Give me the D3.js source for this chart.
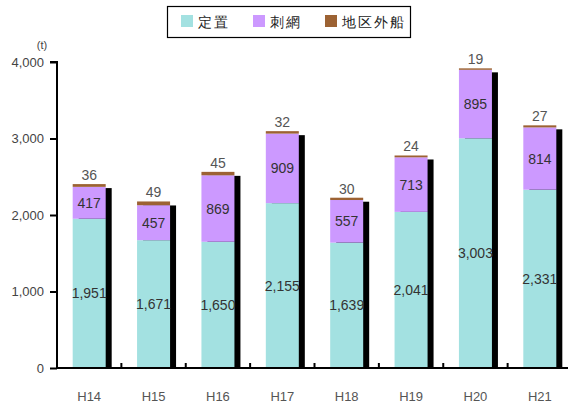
<!DOCTYPE html>
<html>
<head>
<meta charset="utf-8">
<script src="https://cdn.jsdelivr.net/npm/d3@7"></script>
<style>
  body { margin: 0; background: #fff; }
  svg text { font-family: "Liberation Sans", Arial, sans-serif; }
</style>
</head>
<body>
<svg id="chart" width="568" height="407"></svg>
<script>
var years = ["H14", "H15", "H16", "H17", "H18", "H19", "H20", "H21"];
var teichi = [1951, 1671, 1650, 2155, 1639, 2041, 3003, 2331];
var sashiami = [417, 457, 869, 909, 557, 713, 895, 814];
var chikugai = [36, 49, 45, 32, 30, 24, 19, 27];
var seriesNames = ["定置", "刺網", "地区外船"];
var yTicks = [0, 1000, 2000, 3000, 4000];

var colors = ["#a3e1e1", "#cc99ff", "#9c6233"];

var svg = d3.select("#chart");

var x = d3.scaleBand().domain(years).range([57, 572]).paddingInner(0).paddingOuter(0);
var y = d3.scaleLinear().domain([0, 4000]).range([368, 62]);
var barW = 33;

var rows = years.map(function(yr, i) {
  return { year: yr, teichi: teichi[i], sashiami: sashiami[i], chikugai: chikugai[i] };
});
var stack = d3.stack().keys(["teichi", "sashiami", "chikugai"])(rows);

// shadows
svg.append("g").selectAll("rect")
  .data(rows)
  .enter().append("rect")
  .attr("x", function(d) { return x(d.year) + (x.bandwidth() - barW) / 2 + 6; })
  .attr("y", function(d) { return y(d.teichi + d.sashiami + d.chikugai) + 4; })
  .attr("width", barW)
  .attr("height", function(d) { return y(0) - y(d.teichi + d.sashiami + d.chikugai) - 4; })
  .attr("fill", "#000");

// stacked bars
svg.append("g").selectAll("g")
  .data(stack)
  .enter().append("g")
  .attr("fill", function(d, i) { return colors[i]; })
  .selectAll("rect")
  .data(function(d) { return d; })
  .enter().append("rect")
  .attr("x", function(d) { return x(d.data.year) + (x.bandwidth() - barW) / 2; })
  .attr("y", function(d) { return y(d[1]); })
  .attr("width", barW)
  .attr("height", function(d) { return y(d[0]) - y(d[1]); });

// y axis
var yAxis = d3.axisLeft(y).tickValues(yTicks).tickFormat(d3.format(",")).tickSize(7).tickPadding(6);
var gy = svg.append("g").attr("transform", "translate(57,0)").call(yAxis);
gy.select(".domain").attr("stroke", "#000").attr("stroke-width", 2).attr("d", "M-7,62H0V368");
gy.selectAll(".tick line").attr("stroke", "#000").attr("stroke-width", 2);
gy.selectAll(".tick text").attr("fill", "#444").attr("font-size", 13).attr("font-family", "Liberation Sans, Arial, sans-serif");

svg.append("text").attr("x", 42).attr("y", 49).attr("text-anchor", "middle")
  .attr("fill", "#444").attr("font-size", 11).text("(t)");

// x axis
svg.append("line").attr("x1", 56).attr("x2", 568).attr("y1", 368).attr("y2", 368)
  .attr("stroke", "#000").attr("stroke-width", 2);
svg.append("g").selectAll("line")
  .data(years.slice(1))
  .enter().append("line")
  .attr("x1", function(d) { return x(d); })
  .attr("x2", function(d) { return x(d); })
  .attr("y1", 368).attr("y2", 363)
  .attr("stroke", "#000").attr("stroke-width", 2);
svg.append("g").selectAll("text")
  .data(years)
  .enter().append("text")
  .attr("x", function(d) { return x(d) + x.bandwidth() / 2; })
  .attr("y", 401)
  .attr("text-anchor", "middle")
  .attr("fill", "#555")
  .attr("font-size", 13)
  .text(function(d) { return d; });

// value labels
var fmt = d3.format(",");
var labels = svg.append("g").attr("font-size", 14).attr("text-anchor", "middle");
stack.forEach(function(s, si) {
  labels.selectAll(null)
    .data(s)
    .enter().append("text")
    .attr("x", function(d) { return x(d.data.year) + x.bandwidth() / 2; })
    .attr("y", function(d) {
      return si < 2 ? (y(d[0]) + y(d[1])) / 2 + 5 : y(d[1]) - 4;
    })
    .attr("fill", si < 2 ? "#333" : "#555")
    .text(function(d) { return fmt(d[1] - d[0]); });
});

// legend
var lg = svg.append("g");
lg.append("rect").attr("x", 167.5).attr("y", 6.5).attr("width", 243).attr("height", 31)
  .attr("fill", "#fff").attr("stroke", "#000").attr("stroke-width", 1.2);
var legX = [181, 253, 325];
seriesNames.forEach(function(n, i) {
  lg.append("rect").attr("x", legX[i]).attr("y", 15).attr("width", 12).attr("height", 12).attr("fill", colors[i]);
  lg.append("text").attr("x", legX[i] + 17).attr("y", 26.5)
    .attr("font-family", "Noto Sans CJK JP").attr("font-size", 14).attr("letter-spacing", 2)
    .attr("fill", "#222").text(n);
});
</script>
</body>
</html>
